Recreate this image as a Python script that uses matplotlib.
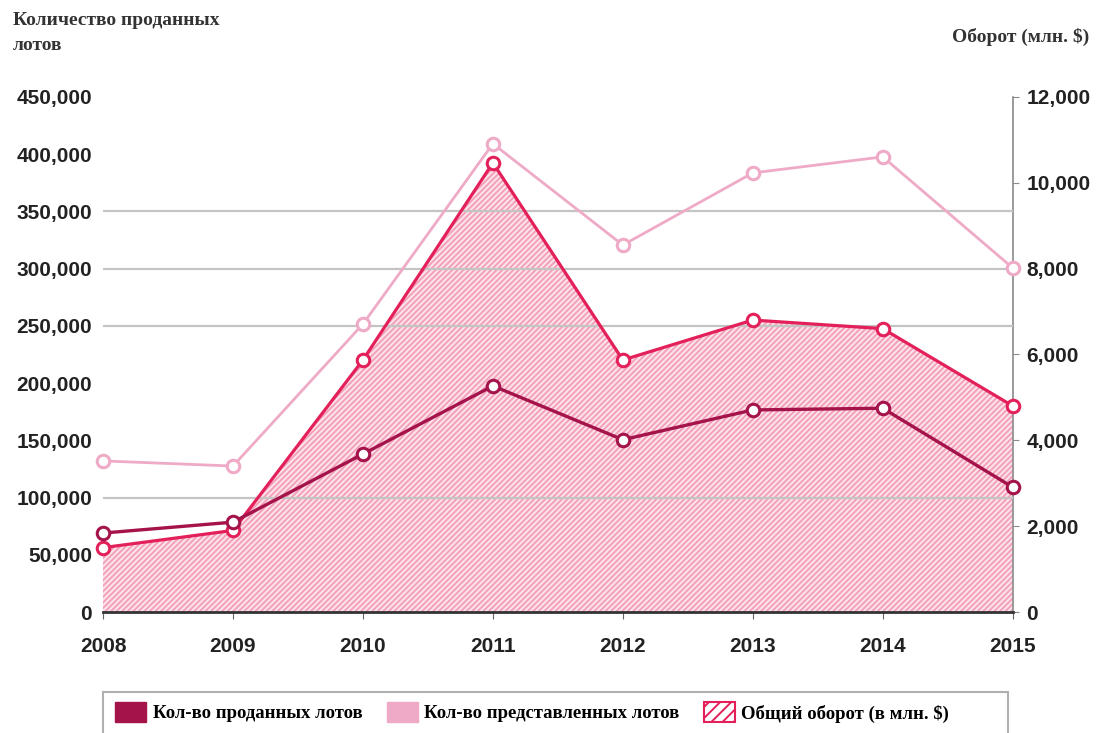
import matplotlib
matplotlib.use("Agg")
import matplotlib.pyplot as plt
from matplotlib.patches import Patch, Rectangle
from matplotlib.ticker import FuncFormatter

# Data
years = [2008, 2009, 2010, 2011, 2012, 2013, 2014, 2015]
sold_lots = [69000, 78500, 138000, 197500, 150500, 176500, 178000, 109000]
offered_lots = [132000, 127500, 251500, 409000, 320500, 383500, 397500, 300500]
turnover = [1500, 1900, 5870, 10460, 5870, 6800, 6600, 4800]

left_ticks = [0, 50000, 100000, 150000, 200000, 250000, 300000, 350000, 400000, 450000]
right_ticks = [0, 2000, 4000, 6000, 8000, 10000, 12000]
grid_vals = [100000, 250000, 300000, 350000]

legend_labels = ["Кол-во проданных лотов", "Кол-во представленных лотов",
                 "Общий оборот (в млн. $)"]

# Colors
DARK = "#a5134b"
LIGHT = "#eeaac6"
TURN = "#e3205a"
HATCH_FACE = "#fde4ec"
HATCH_LINE = "#f3a0b9"
TXT = "#222222"

plt.rcParams["hatch.linewidth"] = 1.4
tick_font = dict(family=["Liberation Sans", "DejaVu Sans"], weight="bold", size=15)
serif_font = dict(family=["Liberation Serif", "DejaVu Serif"], weight="bold")

fig = plt.figure(figsize=(10.96, 7.33), dpi=100)
ax = fig.add_axes([0.094, 0.165, 0.830, 0.703])
ax2 = ax.twinx()

# turnover area on the right axis (bottom layer)
ax2.fill_between(years, turnover, 0, facecolor=HATCH_FACE, edgecolor=HATCH_LINE,
                 hatch="//////", linewidth=0)
ax2.set_ylim(0, 12000)
ax2.set_yticks(right_ticks)
ax2.yaxis.set_major_formatter(FuncFormatter(lambda v, p: f"{v:,.0f}"))
for s in ["top", "left", "bottom"]:
    ax2.spines[s].set_visible(False)
ax2.spines["right"].set_color("#8a8a8a")
ax2.spines["right"].set_linewidth(1.2)
ax2.tick_params(axis="y", length=4, color="#8a8a8a", pad=6, labelcolor=TXT)
for lab in ax2.get_yticklabels():
    lab.set(**tick_font)

# left axis on top
ax.set_zorder(ax2.get_zorder() + 1)
ax.patch.set_visible(False)

for g in grid_vals:
    ax.axhline(g, color="#c4c4c4", lw=1.6, zorder=1)

mk = dict(marker="o", markersize=9, markerfacecolor="white", markeredgewidth=2.2,
          clip_on=False)
ax.plot(years, turnover, color=TURN, lw=2.3, transform=ax2.transData, zorder=3, **mk)
ax.plot(years, offered_lots, color=LIGHT, lw=2.0, zorder=4, **mk)
ax.plot(years, sold_lots, color=DARK, lw=2.4, zorder=5, **mk)

ax.set_xlim(2008, 2015)
ax.set_ylim(0, 450000)
ax.set_xticks(years)
ax.set_yticks(left_ticks)
ax.yaxis.set_major_formatter(FuncFormatter(lambda v, p: f"{v:,.0f}"))
for s in ["top", "left", "right"]:
    ax.spines[s].set_visible(False)
ax.spines["bottom"].set_color("#333333")
ax.spines["bottom"].set_linewidth(2)
ax.tick_params(axis="y", length=0, pad=8, labelcolor=TXT)
ax.tick_params(axis="x", length=5, color="#666666", pad=13, labelcolor=TXT)
for lab in ax.get_xticklabels() + ax.get_yticklabels():
    lab.set(**tick_font)

# axis titles
fig.text(0.012, 0.983, "Количество проданных\nлотов", ha="left", va="top",
         size=14, color="#333333", linespacing=1.55, **serif_font)
fig.text(0.994, 0.949, "Оборот (млн. $)", ha="right", va="center",
         size=14, color="#333333", **serif_font)

# legend: frame drawn as a box spanning the plot width
fig.add_artist(Rectangle((0.094, -0.01), 0.826, 0.066, transform=fig.transFigure,
                         fill=False, edgecolor="#b0b0b0", linewidth=1.5))
handles = [Patch(facecolor=DARK, edgecolor=DARK),
           Patch(facecolor=LIGHT, edgecolor=LIGHT),
           Patch(facecolor="white", edgecolor=TURN, hatch="///", linewidth=1.5)]
fig.legend(handles, legend_labels, loc="center left",
           bbox_to_anchor=(0.105, 0.028), ncol=3, frameon=False,
           handlelength=1.65, handleheight=1.23, handletextpad=0.35,
           columnspacing=1.3, borderpad=0, borderaxespad=0,
           prop=dict(family="Liberation Serif", weight="bold", size=13.5))

fig.savefig("out.png", dpi=100)
